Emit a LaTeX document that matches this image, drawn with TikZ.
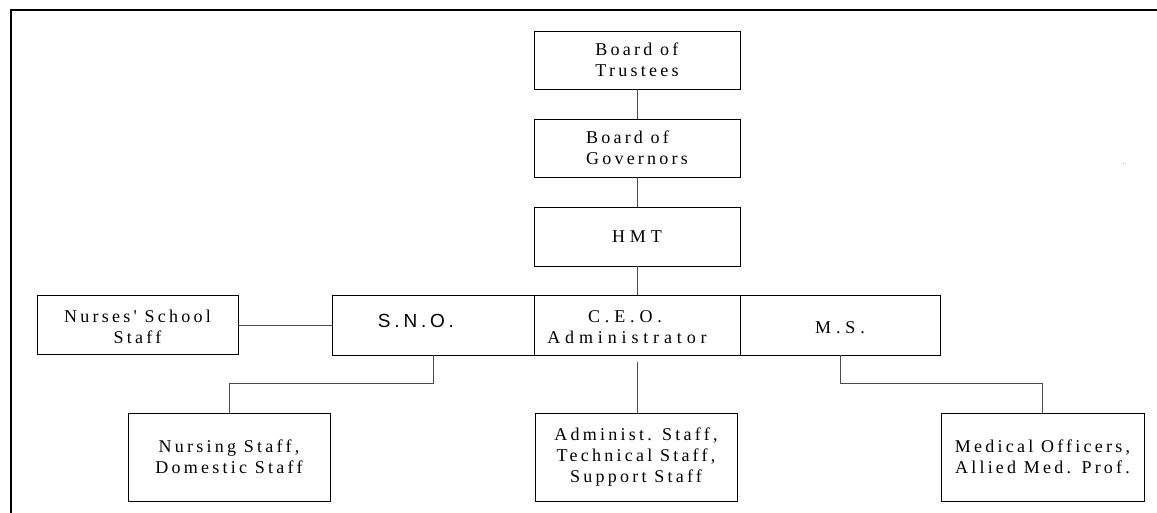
\documentclass[tikz,border=0pt]{standalone}
\usepackage{fontspec}
\newfontfamily\orgfont{Liberation Serif}[LetterSpace=18]
\newfontfamily\orgwide{Liberation Serif}[LetterSpace=27]
\newfontfamily\orgsans{Liberation Sans}[LetterSpace=20]
\newcommand\shifttext[2]{\raisebox{#1}[\height][\depth]{\begin{tabular}{@{}c@{}}#2\end{tabular}}}
\begin{document}
\begin{tikzpicture}[x=1pt,y=-1pt,
  box/.style={draw=black,line width=0.9pt,inner sep=0pt,outer sep=0pt,
    minimum width=#1,align=center,font=\orgfont\fontsize{18}{21}\selectfont},
  box/.default=204pt,
  conn/.style={draw=black!70,line width=0.9pt},
  frame/.style={line width=2.4pt,black}]
\useasboundingbox (0,0) rectangle (1157,512);
\draw[frame] (11,513) -- (11,10) -- (1158,10);
\fill[black!40] (1122.5,162.5) rectangle (1124,164);

\node[box=206pt,minimum height=58pt,align=left] (bot) at (637,60) {Board of\\Trustees};
\node[box=206pt,minimum height=58pt,align=left] (bog) at (637,148) {Board of\\Governors};
\node[box=206pt,minimum height=59pt,font=\orgwide\fontsize{18}{21}\selectfont] (hmt) at (637,236.5) {HMT};

\node[box=201pt,minimum height=59pt] (nss) at (137.5,325) {\shifttext{-4pt}{Nurses' School\\Staff}};
\node[box=202pt,minimum height=60pt,font=\orgsans\fontsize{19}{21}\selectfont] (sno) at (433,325) {\raisebox{4pt}[\height][\depth]{S.N.O.}\hspace*{34pt}};
\node[box=206pt,minimum height=60pt,font=\orgwide\fontsize{18}{21}\selectfont] (ceo) at (637,325) {\shifttext{-4pt}{C.E.O.\hspace*{24pt}\\Administrator\hspace*{20pt}}};
\node[box=200pt,minimum height=60pt,font=\orgwide\fontsize{18}{21}\selectfont] (ms) at (840,325) {\raisebox{-3pt}[\height][\depth]{M.S.}};

\node[box=202pt,minimum height=88pt] (nurs) at (229,457) {Nursing Staff,\\Domestic Staff};
\node[box=202pt,minimum height=88pt] (adm) at (636,457) {Administ. Staff,\\Technical Staff,\\Support Staff};
\node[box=203pt,minimum height=88pt] (med) at (1042.5,457) {Medical Officers,\\Allied Med. Prof.};

\coordinate (j) at (0,383);

\draw[conn] (bot.south) -- (bog.north);
\draw[conn] (bog.south) -- (hmt.north);
\draw[conn] (hmt.south) -- (ceo.north);
\draw[conn] (nss.east) -- (sno.west);
\draw[conn] (sno.south) -- (sno.south |- j) -| (nurs.north);
\draw[conn] ([yshift=-7pt]ceo.south) -- (ceo.south |- adm.north);
\draw[conn] (ms.south) -- (ms.south |- j) -| (med.north);
\end{tikzpicture}
\end{document}
